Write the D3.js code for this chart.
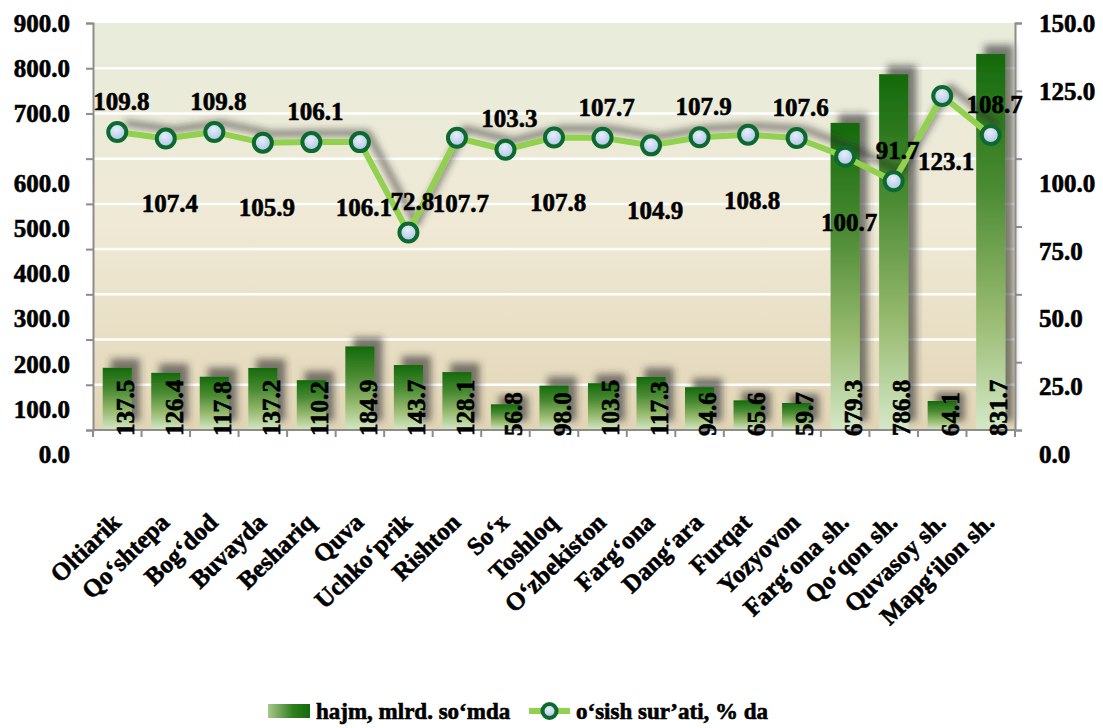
<!DOCTYPE html>
<html>
<head>
<meta charset="utf-8">
<script src="https://cdn.jsdelivr.net/npm/d3@7"></script>
<style>
  body { margin: 0; background: #fff; }
  svg text { font-family: "Liberation Serif", "Times New Roman", Times, "DejaVu Serif", serif; font-weight: bold; fill: #000; stroke: #000; stroke-width: 0.6px; }
  .axis path, .axis line { stroke: #8c8c8c; stroke-width: 2; }
</style>
</head>
<body>
<svg width="1103" height="728"></svg>
<script>
var categories = ["Oltiarik", "Qo‘shtepa", "Bog‘dod", "Buvayda", "Beshariq", "Quva", "Uchko‘prik", "Rishton", "So‘x", "Toshloq",
  "O‘zbekiston", "Farg‘ona", "Dang‘ara", "Furqat", "Yozyovon", "Farg‘ona sh.", "Qo‘qon sh.", "Quvasoy sh.", "Mapg‘ilon sh."];
var volume = [137.5, 126.4, 117.8, 137.2, 110.2, 184.9, 143.7, 128.1, 56.8, 98.0, 103.5, 117.3, 94.6, 65.6, 59.7, 679.3, 786.8, 64.1, 831.7];
var growth = [109.8, 107.4, 109.8, 105.9, 106.1, 106.1, 72.8, 107.7, 103.3, 107.8, 107.7, 104.9, 107.9, 108.8, 107.6, 100.7, 91.7, 123.1, 108.7];
var leftTicks = [0, 100, 200, 300, 400, 500, 600, 700, 800, 900];
var rightTicks = [0, 25, 50, 75, 100, 125, 150];
var seriesNames = ["hajm, mlrd. so‘mda", "o‘sish sur’ati, % da"];

var svg = d3.select("svg"),
    margin = {top: 23, right: 88, bottom: 298, left: 93},
    width = +svg.attr("width") - margin.left - margin.right,
    height = +svg.attr("height") - margin.top - margin.bottom;

var defs = svg.append("defs");

var bg = defs.append("linearGradient").attr("id", "bg").attr("x1", 0).attr("y1", 0).attr("x2", 0).attr("y2", 1);
bg.append("stop").attr("offset", "0%").attr("stop-color", "#e8ecdb");
bg.append("stop").attr("offset", "50%").attr("stop-color", "#efe9d5");
bg.append("stop").attr("offset", "100%").attr("stop-color", "#e2d5b6");

var barGrad = defs.append("linearGradient").attr("id", "barGrad").attr("x1", 0).attr("y1", 0).attr("x2", 0).attr("y2", 1);
barGrad.append("stop").attr("offset", "0%").attr("stop-color", "#146a0c");
barGrad.append("stop").attr("offset", "35%").attr("stop-color", "#4a8a32");
barGrad.append("stop").attr("offset", "70%").attr("stop-color", "#98bb70");
barGrad.append("stop").attr("offset", "100%").attr("stop-color", "#d4e8c8");

var legGrad = defs.append("linearGradient").attr("id", "legGrad").attr("x1", 0).attr("y1", 0).attr("x2", 1).attr("y2", 0);
legGrad.append("stop").attr("offset", "0%").attr("stop-color", "#a9c98a");
legGrad.append("stop").attr("offset", "60%").attr("stop-color", "#2f7d1e");
legGrad.append("stop").attr("offset", "100%").attr("stop-color", "#146a0c");

var dotGrad = defs.append("radialGradient").attr("id", "dotGrad").attr("cx", "45%").attr("cy", "35%").attr("r", "70%");
dotGrad.append("stop").attr("offset", "0%").attr("stop-color", "#e6eefa");
dotGrad.append("stop").attr("offset", "100%").attr("stop-color", "#a8bfe6");

var shadow = defs.append("filter").attr("id", "shadow").attr("x", "-50%").attr("y", "-50%").attr("width", "200%").attr("height", "200%");
shadow.append("feDropShadow").attr("dx", 8).attr("dy", -9).attr("stdDeviation", 3.5)
  .attr("flood-color", "#2a2a2a").attr("flood-opacity", 0.6);

var g = svg.append("g").attr("transform", "translate(" + margin.left + "," + margin.top + ")");

var x = d3.scaleBand().domain(categories).range([0, width]).paddingInner(0.4).paddingOuter(0.2);
var y = d3.scaleLinear().domain([0, 900]).range([height, 0]);
var y2 = d3.scaleLinear().domain([0, 150]).range([height, 0]);

g.append("rect").attr("width", width).attr("height", height).attr("fill", "url(#bg)");

g.selectAll(".grid").data(leftTicks.slice(1, -1)).enter().append("line")
  .attr("class", "grid")
  .attr("x1", 0).attr("x2", width)
  .attr("y1", function (d) { return y(d); }).attr("y2", function (d) { return y(d); })
  .attr("stroke", "#fff").attr("stroke-width", 2.5);

// bars
g.selectAll(".bar").data(volume).enter().append("rect")
  .attr("class", "bar")
  .attr("x", function (d, i) { return x(categories[i]); })
  .attr("y", function (d) { return y(d); })
  .attr("width", x.bandwidth())
  .attr("height", function (d) { return height - y(d); })
  .attr("fill", "url(#barGrad)")
  .attr("filter", "url(#shadow)");

// axes
var yAxis = g.append("g").attr("class", "axis")
  .call(d3.axisLeft(y).tickValues(leftTicks).tickSize(7).tickFormat(d3.format(".1f")));
var y2Axis = g.append("g").attr("class", "axis").attr("transform", "translate(" + width + ",0)")
  .call(d3.axisRight(y2).tickValues(rightTicks).tickSize(7).tickFormat(d3.format(".1f")));

yAxis.selectAll("text").style("font-size", "25px").attr("x", -23)
  .attr("dy", function (d) { return d <= 600 ? "1.3em" : "0.33em"; });
y2Axis.selectAll("text").style("font-size", "25px").attr("x", 24)
  .attr("dy", function (d) { return d <= 100 ? "1.3em" : "0.33em"; });

var step = x.step();
var xAxis = g.append("g").attr("class", "axis").attr("transform", "translate(0," + height + ")");
xAxis.append("line").attr("x1", 0).attr("x2", width).attr("stroke", "#8c8c8c").attr("stroke-width", 2);
xAxis.selectAll(".tick").data(d3.range(categories.length + 1)).enter().append("line")
  .attr("x1", function (i) { return i * step; }).attr("x2", function (i) { return i * step; })
  .attr("y1", 0).attr("y2", 7);

xAxis.selectAll(".cat").data(categories).enter().append("text")
  .attr("class", "cat")
  .attr("text-anchor", "end")
  .style("font-size", "25px")
  .attr("transform", function (d) { return "translate(" + (x(d) + x.bandwidth() / 2 + 5) + ",94) rotate(-44)"; })
  .text(function (d) { return d; });

// bar labels
g.selectAll(".barlabel").data(volume).enter().append("text")
  .attr("class", "barlabel")
  .style("font-size", "25px")
  .attr("transform", function (d, i) {
    return "translate(" + (x(categories[i]) + x.bandwidth() / 2 + 8) + "," + (height + 6) + ") rotate(-90)";
  })
  .attr("dy", "0.35em")
  .text(function (d) { return d.toFixed(1); });

// growth line
var line = d3.line()
  .x(function (d, i) { return x(categories[i]) + x.bandwidth() / 2; })
  .y(function (d) { return y2(d); });

var lineG = g.append("g").attr("filter", "url(#shadow)");
lineG.append("path").datum(growth)
  .attr("d", line)
  .attr("fill", "none")
  .attr("stroke", "#92d050")
  .attr("stroke-width", 6)
  .attr("stroke-linejoin", "round");

g.selectAll(".dot").data(growth).enter().append("circle")
  .attr("class", "dot")
  .attr("cx", function (d, i) { return x(categories[i]) + x.bandwidth() / 2; })
  .attr("cy", function (d) { return y2(d); })
  .attr("r", 9)
  .attr("fill", "url(#dotGrad)")
  .attr("stroke", "#0d6a2e")
  .attr("stroke-width", 4);

g.selectAll(".linelabel").data(growth).enter().append("text")
  .attr("class", "linelabel")
  .attr("text-anchor", "middle")
  .style("font-size", "25px")
  .attr("x", function (d, i) { return x(categories[i]) + x.bandwidth() / 2 + 4; })
  .attr("y", function (d, i) { return y2(d) + (i % 2 === 0 ? -31 : 65); })
  .attr("dy", "0.35em")
  .text(function (d) { return d.toFixed(1); });

// legend
var leg = svg.append("g").attr("transform", "translate(0,711)");
leg.append("rect").attr("x", 268).attr("y", -7).attr("width", 42).attr("height", 14).attr("fill", "url(#legGrad)");
leg.append("text").attr("x", 316).attr("dy", "0.35em").style("font-size", "23px").text(seriesNames[0]);
leg.append("line").attr("x1", 529).attr("x2", 570).attr("stroke", "#92d050").attr("stroke-width", 6);
leg.append("circle").attr("cx", 549.5).attr("r", 7).attr("fill", "url(#dotGrad)").attr("stroke", "#0d6a2e").attr("stroke-width", 4);
leg.append("text").attr("x", 576).attr("dy", "0.35em").style("font-size", "23px").text(seriesNames[1]);
</script>
</body>
</html>
